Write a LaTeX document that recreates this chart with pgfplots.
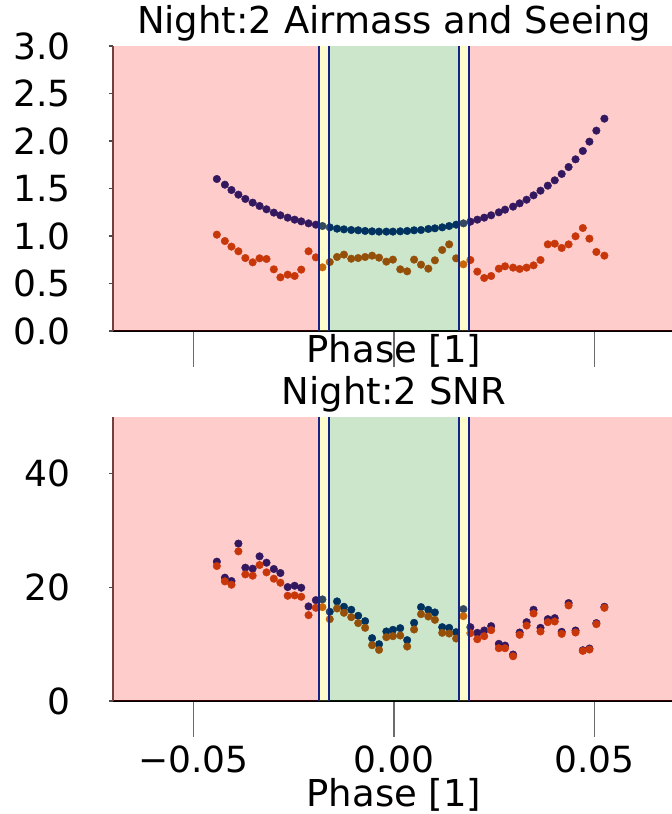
\documentclass[border=0pt]{standalone}
\usepackage{pgfplots}
\pgfplotsset{compat=1.18}
\usepackage{pgfplotstable}
\usepackage{fontspec}
\setmainfont{DejaVu Sans}
\definecolor{amc}{RGB}{0,31,119}
\definecolor{sec}{RGB}{186,69,12}
\definecolor{vl}{RGB}{20,35,135}
\definecolor{spine}{RGB}{115,64,64}
\pgfplotstableread{
p am see s1 s2
-0.04413 1.600 1.014 24.53 23.76
-0.04213 1.540 0.947 21.71 21.06
-0.04049 1.484 0.888 21.12 20.47
-0.03876 1.435 0.839 27.71 26.35
-0.03703 1.390 0.768 23.47 22.29
-0.03521 1.351 0.723 23.29 22.06
-0.03349 1.316 0.765 25.47 23.94
-0.03176 1.281 0.758 24.35 22.65
-0.02994 1.246 0.649 23.24 21.53
-0.02830 1.218 0.565 22.53 20.82
-0.02648 1.193 0.593 20.06 18.53
-0.02475 1.172 0.579 20.29 18.59
-0.02311 1.154 0.646 19.94 18.35
-0.02129 1.133 0.839 16.65 15.12
-0.01947 1.119 0.775 17.76 16.41
-0.01783 1.105 0.670 17.88 16.53
-0.01601 1.091 0.726 15.71 14.41
-0.01419 1.077 0.779 17.53 16.29
-0.01247 1.070 0.804 16.59 15.53
-0.01065 1.063 0.761 16.06 14.76
-0.00892 1.060 0.768 15.00 13.71
-0.00719 1.053 0.779 14.06 12.88
-0.00546 1.049 0.793 11.06 9.82
-0.00373 1.046 0.772 10.00 9.00
-0.00191 1.046 0.730 12.24 11.24
-0.00027 1.046 0.751 12.53 11.41
0.00155 1.049 0.649 12.82 11.53
0.00328 1.053 0.628 10.71 9.59
0.00500 1.060 0.751 13.76 12.59
0.00673 1.063 0.698 16.53 15.29
0.00855 1.074 0.656 16.06 14.88
0.01019 1.081 0.744 15.59 14.29
0.01201 1.091 0.853 13.00 12.00
0.01374 1.105 0.912 12.88 11.88
0.01547 1.119 0.765 12.12 11.00
0.01729 1.133 0.702 16.18 14.94
0.01902 1.151 0.747 13.00 11.94
0.02075 1.172 0.625 12.00 10.88
0.02247 1.193 0.558 12.41 11.41
0.02420 1.218 0.579 13.18 12.47
0.02611 1.249 0.656 10.06 9.29
0.02766 1.277 0.681 9.76 9.29
0.02966 1.309 0.667 8.18 7.88
0.03130 1.344 0.653 12.06 11.65
0.03303 1.382 0.667 13.88 13.29
0.03476 1.428 0.691 16.06 15.41
0.03649 1.477 0.747 12.88 12.24
0.03831 1.530 0.912 14.41 13.88
0.04004 1.586 0.919 14.59 14.00
0.04177 1.653 0.874 12.18 11.82
0.04349 1.726 0.912 17.24 16.82
0.04522 1.807 0.997 12.41 12.06
0.04704 1.895 1.084 8.94 8.82
0.04868 1.993 0.972 9.24 9.06
0.05041 2.109 0.832 13.71 13.53
0.05241 2.235 0.793 16.59 16.41
}\data
\pgfplotsset{
  common/.style={
    scale only axis, width=562bp, xmin=-0.07, xmax=0.07,
    scaled x ticks=false, scaled y ticks=false,
    clip marker paths=true,
    axis x line*=bottom, axis y line*=left,
    x axis line style={black, line width=1.3bp},
    y axis line style={spine, line width=1.3bp},
    tick align=outside,
    xtick={-0.05,0,0.05},
    xtick style={gray!85!black, line width=1.2bp, /pgfplots/major tick length=36bp},
    ytick style={black!70, line width=1.2bp, /pgfplots/major tick length=4bp},
    yticklabel style={anchor=east, inner sep=0pt, xshift=-38bp},
    xticklabel style={anchor=base, inner sep=0pt, yshift=-67bp},
    xlabel={Phase [1]},
    label style={font=\fontsize{37bp}{44bp}\selectfont},
    title style={at={(axis description cs:0.5,1)}, anchor=base, yshift=7bp, inner sep=0pt, font=\fontsize{37bp}{44bp}\selectfont},
    /pgf/number format/assume math mode=true,
  },
  ovl/.style={draw=none, forget plot, fill opacity=0.2},
  vline/.style={vl, line width=2bp, forget plot},
  dots/.style={only marks, mark=*, mark size=3.8bp},
}
\begin{document}
\begin{tikzpicture}[font=\fontsize{36bp}{43bp}\selectfont]
\useasboundingbox (0,0) rectangle (672bp,814bp);
% top panel
\begin{axis}[common, at={(113bp,483bp)}, anchor=south west, height=285bp,
  ymin=0, ymax=3, ytick={0,0.5,1,1.5,2,2.5,3},
  yticklabels={0.0,0.5,1.0,1.5,2.0,2.5,3.0},
  xticklabels={},
  title={Night:2 Airmass and Seeing},
  xlabel style={at={(axis description cs:0.5,0)}, anchor=base, inner sep=0pt, yshift=-32bp},
]
\addplot[dots, amc] table[x=p,y=am]{\data};
\addplot[dots, sec] table[x=p,y=see]{\data};
\addplot[ovl, fill=red] coordinates {(-0.07,3) (-0.0187,3)} \closedcycle;
\addplot[ovl, fill=red] coordinates {(0.0187,3) (0.07,3)} \closedcycle;
\addplot[ovl, fill=yellow] coordinates {(-0.0187,3) (-0.0161,3)} \closedcycle;
\addplot[ovl, fill=yellow] coordinates {(0.0161,3) (0.0187,3)} \closedcycle;
\addplot[ovl, fill={rgb,255:red,0;green,128;blue,0}] coordinates {(-0.0161,3) (0.0161,3)} \closedcycle;
\addplot[vline] coordinates {(-0.0187,0) (-0.0187,3)};
\addplot[vline] coordinates {(-0.0161,0) (-0.0161,3)};
\addplot[vline] coordinates {(0.0161,0) (0.0161,3)};
\addplot[vline] coordinates {(0.0187,0) (0.0187,3)};
\end{axis}
% bottom panel
\begin{axis}[common, at={(113bp,113bp)}, anchor=south west, height=284bp,
  ymin=0, ymax=50, ytick={0,20,40},
  yticklabels={0,20,40},
  xticklabels={−0.05,0.00,0.05},
  title={Night:2 SNR},
  xlabel style={at={(axis description cs:0.5,0)}, anchor=base, inner sep=0pt, yshift=-105bp},
]
\addplot[dots, amc] table[x=p,y=s1]{\data};
\addplot[dots, sec] table[x=p,y=s2]{\data};
\addplot[ovl, fill=red] coordinates {(-0.07,50) (-0.0187,50)} \closedcycle;
\addplot[ovl, fill=red] coordinates {(0.0187,50) (0.07,50)} \closedcycle;
\addplot[ovl, fill=yellow] coordinates {(-0.0187,50) (-0.0161,50)} \closedcycle;
\addplot[ovl, fill=yellow] coordinates {(0.0161,50) (0.0187,50)} \closedcycle;
\addplot[ovl, fill={rgb,255:red,0;green,128;blue,0}] coordinates {(-0.0161,50) (0.0161,50)} \closedcycle;
\addplot[vline] coordinates {(-0.0187,0) (-0.0187,50)};
\addplot[vline] coordinates {(-0.0161,0) (-0.0161,50)};
\addplot[vline] coordinates {(0.0161,0) (0.0161,50)};
\addplot[vline] coordinates {(0.0187,0) (0.0187,50)};
\end{axis}
\end{tikzpicture}
\end{document}
